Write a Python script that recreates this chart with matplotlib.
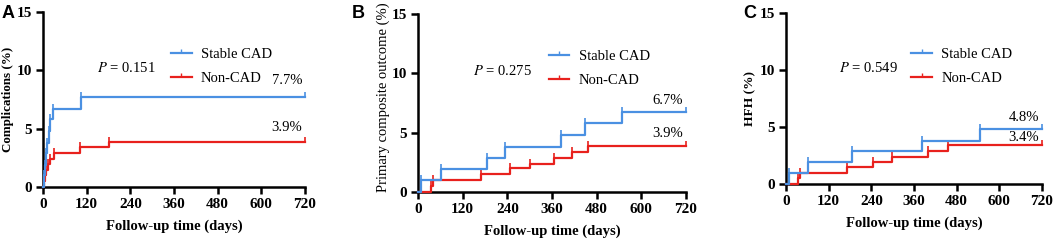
import matplotlib
matplotlib.use("Agg")
import matplotlib.pyplot as plt
import numpy as np
from matplotlib.path import Path
from matplotlib.lines import Line2D

# ---------------- data ----------------
x_ticks = [0, 120, 240, 360, 480, 600, 720]
y_ticks = [0, 5, 10, 15]

# Panel A: Complications
a_stable_t = [0, 3, 6, 9, 12, 16, 20, 28, 105, 720]
a_stable_v = [0, 1.0, 1.9, 2.9, 3.8, 4.8, 5.8, 6.7, 7.7, 7.7]
a_non_t = [0, 2, 5, 9, 13, 20, 30, 103, 180, 720]
a_non_v = [0, 0.5, 1.0, 1.5, 2.0, 2.4, 2.9, 3.4, 3.9, 3.9]

# Panel B: Primary composite outcome
b_stable_t = [0, 7, 63, 186, 233, 383, 448, 547, 720]
b_stable_v = [0, 1.0, 1.9, 2.9, 3.8, 4.8, 5.8, 6.7, 6.7]
b_non_t = [0, 34, 40, 170, 247, 301, 365, 415, 457, 720]
b_non_v = [0, 0.5, 1.0, 1.5, 2.0, 2.4, 2.9, 3.4, 3.9, 3.9]

# Panel C: HFH
c_stable_t = [0, 8, 62, 187, 382, 547, 720]
c_stable_v = [0, 1.0, 1.9, 2.9, 3.8, 4.8, 4.8]
c_non_t = [0, 34, 40, 171, 244, 299, 399, 457, 720]
c_non_v = [0, 0.5, 1.0, 1.5, 1.9, 2.4, 2.9, 3.4, 3.4]

panels = [
    dict(letter="A", ylabel="Complications (%)", yl_w="bold", yl_fs=9.4, p="0.151",
         st=a_stable_t, sv=a_stable_v, nt=a_non_t, nv=a_non_v,
         s_lab="7.7%", n_lab="3.9%", s_y=9.1, n_y=5.1,
         rect=(43, 12, 305, 187), letter_x=2, yl_x=-0.135, yl_y=0.5),
    dict(letter="B", ylabel="Primary composite outcome (%)", yl_w="normal", yl_fs=10.5,
         p="0.275",
         st=b_stable_t, sv=b_stable_v, nt=b_non_t, nv=b_non_v,
         s_lab="6.7%", n_lab="3.9%", s_y=7.75, n_y=4.9,
         rect=(418, 14, 686, 192), letter_x=352, yl_x=-0.13, yl_y=0.53),
    dict(letter="C", ylabel="HFH (%)", yl_w="bold", yl_fs=9.6, p="0.549",
         st=c_stable_t, sv=c_stable_v, nt=c_non_t, nv=c_non_v,
         s_lab="4.8%", n_lab="3.4%", s_y=5.8, n_y=4.1,
         rect=(786, 13, 1042, 184), letter_x=743, yl_x=-0.14, yl_y=0.5),
]

BLUE = "#4a90e2"
RED = "#e8211d"
W, H = 1053, 240
serif = ["Liberation Serif", "DejaVu Serif"]
plt.rcParams["font.family"] = serif

tick_up = Path([(0, 0), (0, 1)], [Path.MOVETO, Path.LINETO])

fig = plt.figure(figsize=(W / 100, H / 100), dpi=100)

for pn in panels:
    x0, y0, x1, y1 = pn["rect"]
    ax = fig.add_axes([x0 / W, 1 - y1 / H, (x1 - x0) / W, (y1 - y0) / H])
    for t, v, c in [(pn["nt"], pn["nv"], RED), (pn["st"], pn["sv"], BLUE)]:
        ax.step(t, v, where="post", color=c, lw=1.6, clip_on=False, zorder=3)
        ax.plot(t[1:], v[1:], linestyle="none", marker=tick_up, markersize=6.5,
                markeredgewidth=1.2, color=c, clip_on=False, zorder=3)
    ax.set_xlim(0, 720)
    ax.set_ylim(0, 15)
    ax.set_xticks(x_ticks)
    ax.set_yticks(y_ticks)
    for s in ["top", "right"]:
        ax.spines[s].set_visible(False)
    for s in ["left", "bottom"]:
        ax.spines[s].set_linewidth(1.8)
    ax.tick_params(width=1.8, length=5, labelsize=11, pad=3)
    for lab in ax.get_xticklabels() + ax.get_yticklabels():
        lab.set_fontweight("bold")
    ax.set_xlabel("Follow-up time (days)", fontsize=10.5, fontweight="bold", labelpad=6)
    ax.set_ylabel(pn["ylabel"], fontsize=pn["yl_fs"], fontweight=pn["yl_w"],
                  va="center")
    ax.yaxis.set_label_coords(pn["yl_x"], pn["yl_y"])
    ax.text(148, 10.2, "$\\it{P}$ = " + pn["p"], fontsize=10.5, va="center",
            ha="left", math_fontfamily="stix")
    ax.text(712, pn["s_y"], pn["s_lab"], fontsize=10.5, ha="right", va="center")
    ax.text(712, pn["n_y"], pn["n_lab"], fontsize=10.5, ha="right", va="center")
    handles = [Line2D([], [], color=BLUE, lw=1.6, marker=tick_up, markersize=6,
                      markeredgewidth=1.0),
               Line2D([], [], color=RED, lw=1.6, marker=tick_up, markersize=6,
                      markeredgewidth=1.0)]
    ax.legend(handles, ["Stable CAD", "Non-CAD"], frameon=False, loc="upper left",
              bbox_to_anchor=(0.45, 0.855), fontsize=10.5, handlelength=1.4,
              handletextpad=0.65, labelspacing=0.75, borderpad=0.2)
    fig.text(pn["letter_x"] / W, 1 - 14 / H, pn["letter"], fontsize=13, fontweight="bold",
             family=["Liberation Sans", "DejaVu Sans"], va="center", ha="left")

fig.savefig("out.png", dpi=100)
